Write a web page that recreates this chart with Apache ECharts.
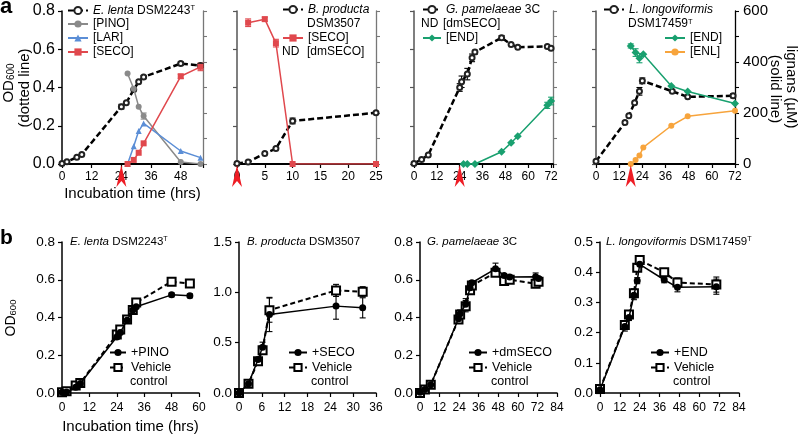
<!DOCTYPE html>
<html><head><meta charset="utf-8">
<script src="https://cdn.jsdelivr.net/npm/echarts@6/dist/echarts.min.js"></script>
<style>html,body{margin:0;padding:0;background:#fff}#c{width:800px;height:437px}</style>
</head><body><div id="c"></div>
<script>
const FF = 'Liberation Sans, Arial, Helvetica, sans-serif';

// ---------- Panel a, E. lenta DSM2243T ----------
const a1OdTime = [0, 2, 6, 8, 24, 26, 29, 31, 33, 48, 56];
const a1Od     = [0.003, 0.012, 0.035, 0.05, 0.30, 0.32, 0.39, 0.43, 0.455, 0.525, 0.515];
const a1OdErr  = [0, 0, 0, 0, 0.012, 0, 0, 0, 0.008, 0.008, 0.01];
const a1LigTime = [26.5, 29, 31, 33, 48, 56];
const a1Pino    = [355, 295, 225, 188, 8, 0];
const a1PinoErr = [0, 0, 0, 12, 0, 0];
const a1Lar     = [0, 70, 129, 159, 51, 25];
const a1Seco    = [0, 16, 44, 81, 344, 381];
const a1SecoErr = [0, 0, 0, 0, 8, 15];

// ---------- Panel a, B. producta DSM3507 ----------
const a2OdTime = [0, 2, 5, 7, 10, 25];
const a2Od     = [0.003, 0.01, 0.055, 0.081, 0.225, 0.268];
const a2OdErr  = [0, 0, 0, 0, 0.015, 0];
const a2SecoTime = [2, 5, 7, 10, 25];
const a2Seco     = [554, 568, 474, 0, 0];
const a2SecoErr  = [15, 8, 15, 0, 0];

// ---------- Panel a, G. pamelaeae 3C ----------
const a3OdTime = [0, 4, 7.5, 24, 25, 28, 30.5, 32, 46, 51, 54.5, 70, 72];
const a3Od     = [0.003, 0.024, 0.047, 0.40, 0.43, 0.47, 0.555, 0.585, 0.66, 0.625, 0.61, 0.615, 0.605];
const a3OdErr  = [0, 0, 0, 0.02, 0.03, 0.03, 0.02, 0.01, 0.012, 0, 0, 0, 0];
const a3EndTime = [26, 28, 32, 46, 51, 54.5, 70, 72];
const a3End     = [0, 0, 0, 48, 83, 109, 230, 247];
const a3EndErr  = [0, 0, 0, 0, 0, 0, 12, 15];

// ---------- Panel a, L. longoviformis DSM17459T ----------
const a4OdTime = [0, 15, 17, 20, 22.5, 24, 39.5, 47.5, 71];
const a4Od     = [0.014, 0.217, 0.252, 0.32, 0.38, 0.435, 0.38, 0.351, 0.357];
const a4OdErr  = [0, 0, 0, 0, 0.02, 0.015, 0, 0, 0.01];
const a4LigTime = [18, 20.5, 22.5, 24.5, 39, 47.5, 72];
const a4End     = [463, 437, 415, 430, 306, 284, 237];
const a4EndErr  = [8, 15, 18, 0, 0, 0, 0];
const a4Enl     = [0, 16, 33, 65, 150, 187, 209];

// lignan addition times (red arrows)
const aAddTime = [24, 0, 24, 18];

// ---------- Panel b ----------
const b1Time = [0, 2, 6, 8, 24, 25.5, 28.5, 31, 32.5, 48, 56];
const b1Pino = [0.004, 0.005, 0.03, 0.05, 0.297, 0.32, 0.386, 0.44, 0.457, 0.52, 0.515];
const b1Veh  = [0.004, 0.009, 0.04, 0.053, 0.31, 0.336, 0.39, 0.44, 0.48, 0.59, 0.58];
const b1PinoErr = [0, 0, 0, 0.01, 0.01, 0.01, 0.01, 0.015, 0.01, 0.01, 0.01];
const b1VehErr  = [0, 0, 0.01, 0.01, 0.01, 0.01, 0.01, 0.01, 0.01, 0.01, 0.01];

const b2Time = [0, 2.5, 5, 6.2, 8, 25.5, 32.5];
const b2Seco = [0, 0.093, 0.332, 0.455, 0.78, 0.863, 0.846];
const b2Veh  = [0, 0.093, 0.315, 0.425, 0.823, 1.019, 1.006];
const b2SecoErr = [0, 0.01, 0.02, 0.05, 0.17, 0.13, 0.1];
const b2VehErr  = [0, 0.01, 0.02, 0.04, 0.12, 0.06, 0.05];

const b3Time = [0, 3, 6.6, 23.6, 24.6, 28, 30.7, 31.8, 46.3, 51.6, 55, 70.9, 72.7];
const b3Dm   = [0.004, 0.018, 0.044, 0.393, 0.42, 0.47, 0.557, 0.584, 0.658, 0.623, 0.614, 0.616, 0.607];
const b3Veh  = [0.0, 0.018, 0.044, 0.39, 0.416, 0.46, 0.545, 0.57, 0.637, 0.593, 0.60, 0.579, 0.589];
const b3DmErr  = [0, 0, 0.01, 0.01, 0.02, 0.03, 0.02, 0.01, 0.03, 0.01, 0.01, 0.02, 0.01];
const b3VehErr = [0, 0, 0.01, 0.01, 0.02, 0.03, 0.02, 0.01, 0.01, 0.01, 0.01, 0.02, 0.02];

const b4Time = [0, 15, 17.5, 20.5, 22.5, 24, 38.8, 46.8, 70.3];
const b4End  = [0.011, 0.22, 0.25, 0.324, 0.372, 0.426, 0.375, 0.35, 0.352];
const b4Veh  = [0.013, 0.225, 0.26, 0.33, 0.415, 0.44, 0.40, 0.366, 0.359];
const b4EndErr = [0.005, 0.015, 0.01, 0.015, 0.01, 0.01, 0.01, 0.015, 0.025];
const b4VehErr = [0.005, 0.015, 0.01, 0.015, 0.01, 0.01, 0.01, 0.015, 0.025];

// ---------- helpers ----------
const zip = (t, v) => t.map((x, i) => [x, v[i]]);
const errs = (t, v, e) => t.map((x, i) => [x, v[i] - e[i], v[i] + e[i]]).filter((d, i) => e[i] > 0);

const COL = {pino:'#8a8a8a', lar:'#5b8ed6', seco:'#e0484d', end:'#19a06f', enl:'#f7a43c', arrow:'#ee1c24'};
const ARROW = 'path://M5,0 L10,22 L5,16 L0,22 Z';

function errRender(params, api) {
  const x = api.value(0), lo = api.value(1), hi = api.value(2);
  const p1 = api.coord([x, hi]), p2 = api.coord([x, lo]);
  const w = 3;
  const style = {stroke: api.visual('color'), lineWidth: 1.1, fill: null};
  return {type:'group', children:[
    {type:'line', shape:{x1:p1[0], y1:p1[1], x2:p2[0], y2:p2[1]}, style},
    {type:'line', shape:{x1:p1[0]-w, y1:p1[1], x2:p1[0]+w, y2:p1[1]}, style},
    {type:'line', shape:{x1:p2[0]-w, y1:p2[1], x2:p2[0]+w, y2:p2[1]}, style}
  ]};
}
function errSeries(xi, yi, t, v, e, color) {
  return {type:'custom', xAxisIndex:xi, yAxisIndex:yi, data:errs(t, v, e), renderItem:errRender,
    itemStyle:{color}, encode:{x:0, y:[1,2]}, silent:true, z:2};
}
function odA(i, name, t, v) {
  return {type:'line', name, xAxisIndex:i, yAxisIndex:i, data:zip(t, v), symbol:'emptyCircle', symbolSize:5,
    lineStyle:{color:'#000', width:2.5, type:[6,3]}, itemStyle:{color:'#222', borderWidth:0.9}, z:3, silent:true,
    markPoint:{symbol:ARROW, symbolSize:[10,22], symbolOffset:[0,12], silent:true, label:{show:false},
      itemStyle:{color:COL.arrow}, data:[{coord:[aAddTime[i], 0]}]}};
}
function lig(i, name, t, v, color, symbol) {
  return {type:'line', name, xAxisIndex:i, yAxisIndex:8+i, data:zip(t, v), symbol, symbolSize: symbol==='diamond'?8:6,
    lineStyle:{color, width:1.5}, itemStyle:{color}, z:4, silent:true};
}
function bTreat(i, name, t, v) {
  return {type:'line', name, xAxisIndex:4+i, yAxisIndex:4+i, data:zip(t, v), symbol:'circle', symbolSize:7,
    lineStyle:{color:'#000', width:1.5}, itemStyle:{color:'#000'}, z:4, silent:true};
}
function bVeh(i, t, v) {
  return {type:'line', name:'Vehicle control', xAxisIndex:4+i, yAxisIndex:4+i, data:zip(t, v), symbol:'emptyRect', symbolSize:8,
    lineStyle:{color:'#000', width:2, type:[5,3]}, itemStyle:{color:'#000', borderWidth:1}, z:3, silent:true};
}

function xa(gi, max, interval, panel, withName) {
  const a = {type:'value', gridIndex:gi, min:0, max, interval, splitLine:{show:false},
    axisLine:{show:true, onZero:false, lineStyle:{color:'#000', width: panel==='a' ? 2 : 1.5}},
    axisTick:{show:true, inside:false, length:4, lineStyle:{color:'#000', width:1.2}},
    axisLabel:{fontSize:12, fontFamily:FF, color:'#000', margin: panel==='a' ? 7 : 9,
      formatter: v => (Math.abs(v/interval - Math.round(v/interval)) < 1e-9 ? String(v) : '')}};
  if (withName) {
    a.name = 'Incubation time (hrs)'; a.nameLocation = 'middle'; a.nameGap = panel==='a' ? 22 : 26;
    a.nameTextStyle = {fontSize:15, fontFamily:FF, color:'#000'};
  }
  return a;
}
function yaLeft(gi, max, interval, showLabels, color, fs) {
  return {type:'value', gridIndex:gi, min:0, max, interval, splitLine:{show:false},
    axisLine:{show:true, onZero:false, lineStyle:{color, width:1.5}},
    axisTick:{show:true, inside:false, length:4, lineStyle:{color, width:1.2}},
    axisLabel:{show:showLabels, fontSize:fs, fontFamily:FF, color:'#000', margin:7, formatter: v => v.toFixed(1)}};
}
function yaRight(gi, showLabels, color) {
  return {type:'value', gridIndex:gi, position:'right', min:0, max:600, interval:100, splitLine:{show:false},
    axisLine:{show:true, onZero:false, lineStyle:{color, width:1.3}},
    axisTick:{show:true, inside:false, length:4, lineStyle:{color, width:1.1}},
    axisLabel:{show:showLabels, fontSize:15, fontFamily:FF, color:'#000', margin:8,
      formatter: v => (v % 200 === 0 ? String(v) : '')}};
}

function leg(name, left, top, iw, fmt, fs) {
  const f = fs || 12;
  return {data:[name], left, top, orient:'vertical', padding:0, itemWidth:iw || 20, itemHeight:9, itemGap:0,
    selectedMode:false, formatter: fmt || (n => n),
    textStyle:{fontSize:f, fontFamily:FF, color:'#000', rich:{
      i:{fontStyle:'italic', fontSize:f, fontFamily:FF, color:'#000'},
      sup:{fontSize:f*0.62, fontFamily:FF, color:'#000', verticalAlign:'top'}}}};
}
function txt(text, left, top, fs, rich) {
  return {text, left, top, padding:0, textStyle:{fontSize:fs || 12, fontWeight:'normal', fontFamily:FF, color:'#000',
    rich: rich || {i:{fontStyle:'italic', fontSize:fs || 12, fontFamily:FF, color:'#000'},
                   sup:{fontSize:(fs || 12)*0.62, fontFamily:FF, color:'#000', verticalAlign:'top'}}}};
}

const grids = [
  {left:62, top:11, width:141, height:153},
  {left:237, top:11, width:139, height:153},
  {left:414, top:11, width:139, height:153},
  {left:596, top:11, width:139, height:153},
  {left:62, top:242, width:137, height:151},
  {left:239, top:242, width:137, height:151},
  {left:420, top:242, width:137, height:151},
  {left:600, top:242, width:139, height:151}
];

const option = {
  animation:false,
  backgroundColor:'#fff',
  grid: grids,
  xAxis: [
    xa(0, 57, 12, 'a', true), xa(1, 25, 5, 'a'), xa(2, 73, 12, 'a'), xa(3, 72, 12, 'a'),
    xa(4, 60, 12, 'b', true), xa(5, 36, 6, 'b'), xa(6, 84, 12, 'b'), xa(7, 84, 12, 'b')
  ],
  yAxis: [
    yaLeft(0, 0.8, 0.2, true, '#000', 16), yaLeft(1, 0.8, 0.2, false, '#555', 16),
    yaLeft(2, 0.8, 0.2, false, '#555', 16), yaLeft(3, 0.8, 0.2, false, '#555', 16),
    yaLeft(4, 0.8, 0.2, true, '#000', 13.5), yaLeft(5, 1.5, 0.5, true, '#000', 13.5),
    yaLeft(6, 0.8, 0.2, true, '#000', 13.5), yaLeft(7, 0.5, 0.1, true, '#000', 13.5),
    yaRight(0, false, '#777'), yaRight(1, false, '#777'), yaRight(2, false, '#777'), yaRight(3, true, '#000')
  ],
  series: [
    // a1
    errSeries(0, 0, a1OdTime, a1Od, a1OdErr, '#000'),
    odA(0, 'E. lenta DSM2243T', a1OdTime, a1Od),
    errSeries(0, 8, a1LigTime, a1Pino, a1PinoErr, COL.pino),
    lig(0, '[PINO]', a1LigTime, a1Pino, COL.pino, 'circle'),
    lig(0, '[LAR]', a1LigTime, a1Lar, COL.lar, 'triangle'),
    errSeries(0, 8, a1LigTime, a1Seco, a1SecoErr, COL.seco),
    lig(0, '[SECO]', a1LigTime, a1Seco, COL.seco, 'rect'),
    // a2
    errSeries(1, 1, a2OdTime, a2Od, a2OdErr, '#000'),
    odA(1, 'B. producta DSM3507', a2OdTime, a2Od),
    errSeries(1, 9, a2SecoTime, a2Seco, a2SecoErr, COL.seco),
    lig(1, '[SECO]', a2SecoTime, a2Seco, COL.seco, 'rect'),
    // a3
    errSeries(2, 2, a3OdTime, a3Od, a3OdErr, '#000'),
    odA(2, 'G. pamelaeae 3C', a3OdTime, a3Od),
    errSeries(2, 10, a3EndTime, a3End, a3EndErr, COL.end),
    lig(2, '[END]', a3EndTime, a3End, COL.end, 'diamond'),
    // a4
    errSeries(3, 3, a4OdTime, a4Od, a4OdErr, '#000'),
    odA(3, 'L. longoviformis DSM17459T', a4OdTime, a4Od),
    errSeries(3, 11, a4LigTime, a4End, a4EndErr, COL.end),
    lig(3, '[END]', a4LigTime, a4End, COL.end, 'diamond'),
    lig(3, '[ENL]', a4LigTime, a4Enl, COL.enl, 'circle'),
    // b
    errSeries(4, 4, b1Time, b1Pino, b1PinoErr, '#000'), errSeries(4, 4, b1Time, b1Veh, b1VehErr, '#000'),
    bVeh(0, b1Time, b1Veh), bTreat(0, '+PINO', b1Time, b1Pino),
    errSeries(5, 5, b2Time, b2Seco, b2SecoErr, '#000'), errSeries(5, 5, b2Time, b2Veh, b2VehErr, '#000'),
    bVeh(1, b2Time, b2Veh), bTreat(1, '+SECO', b2Time, b2Seco),
    errSeries(6, 6, b3Time, b3Dm, b3DmErr, '#000'), errSeries(6, 6, b3Time, b3Veh, b3VehErr, '#000'),
    bVeh(2, b3Time, b3Veh), bTreat(2, '+dmSECO', b3Time, b3Dm),
    errSeries(7, 7, b4Time, b4End, b4EndErr, '#000'), errSeries(7, 7, b4Time, b4Veh, b4VehErr, '#000'),
    bVeh(3, b4Time, b4Veh), bTreat(3, '+END', b4Time, b4End)
  ],
  legend: [
    leg('E. lenta DSM2243T', 67, 4.5, 20, () => '{i|E. lenta} DSM2243{sup|T}'),
    leg('[PINO]', 67, 18, 20), leg('[LAR]', 67, 32, 20), leg('[SECO]', 67, 46, 20),
    leg('B. producta DSM3507', 282, 3.5, 20, () => '{i|B. producta}'),
    leg('[SECO]', 282, 32, 20),
    leg('G. pamelaeae 3C', 422, 3.5, 18, () => '{i|G. pamelaeae} 3C'),
    leg('[END]', 422, 32, 18),
    leg('L. longoviformis DSM17459T', 603, 3.5, 20, () => '{i|L. longoviformis}'),
    leg('[END]', 664, 32, 20), leg('[ENL]', 664, 46, 20),
    leg('+PINO', 109, 346, 16, null, 12.5), leg('Vehicle control', 109, 361, 16, () => 'Vehicle', 12.5),
    leg('+SECO', 288, 346, 18, null, 12.5), leg('Vehicle control', 288, 361, 18, () => 'Vehicle', 12.5),
    leg('+dmSECO', 468, 346, 18, null, 12.5), leg('Vehicle control', 468, 361, 18, () => 'Vehicle', 12.5),
    leg('+END', 650, 346, 18, null, 12.5), leg('Vehicle control', 650, 361, 18, () => 'Vehicle', 12.5)
  ],
  title: [
    txt('DSM3507', 307, 18), txt('ND', 282, 46), txt('[dmSECO]', 307, 46),
    txt('ND', 421, 18), txt('[dmSECO]', 443, 18),
    txt('DSM17459{sup|T}', 628, 18),
    txt('{i|E. lenta} DSM2243{sup|T}', 70, 236, 11.5),
    txt('{i|B. producta} DSM3507', 247, 236, 11.5),
    txt('{i|G. pamelaeae} 3C', 427, 236, 11.5),
    txt('{i|L. longoviformis} DSM17459{sup|T}', 606, 236, 11.5),
    txt('control', 130, 375, 12.5), txt('control', 311, 375, 12.5),
    txt('control', 491, 375, 12.5), txt('control', 673, 375, 12.5)
  ],
  graphic: [
    {type:'text', x:0, y:-4, style:{text:'a', fontSize:22, fontWeight:'bold', fontFamily:FF, fill:'#000', align:'left', verticalAlign:'top'}},
    {type:'text', x:0, y:228, style:{text:'b', fontSize:21, fontWeight:'bold', fontFamily:FF, fill:'#000', align:'left', verticalAlign:'top'}},
    {type:'text', x:9, y:83, rotation:Math.PI/2, style:{text:'{a|OD}{s|600}', fontFamily:FF, fill:'#000', align:'center', verticalAlign:'middle',
      rich:{a:{fontSize:15, fontFamily:FF, fill:'#000'}, s:{fontSize:10, fontFamily:FF, fill:'#000', verticalAlign:'bottom'}}}},
    {type:'text', x:25, y:88, rotation:Math.PI/2, style:{text:'(dotted line)', fontSize:15, fontFamily:FF, fill:'#000', align:'center', verticalAlign:'middle'}},
    {type:'text', x:791, y:87, rotation:-Math.PI/2, style:{text:'lignans (µM)', fontSize:15, fontFamily:FF, fill:'#000', align:'center', verticalAlign:'middle'}},
    {type:'text', x:775, y:89, rotation:-Math.PI/2, style:{text:'(solid line)', fontSize:15, fontFamily:FF, fill:'#000', align:'center', verticalAlign:'middle'}},
    {type:'text', x:11, y:318, rotation:Math.PI/2, style:{text:'{a|OD}{s|600}', fontFamily:FF, fill:'#000', align:'center', verticalAlign:'middle',
      rich:{a:{fontSize:14, fontFamily:FF, fill:'#000'}, s:{fontSize:9.5, fontFamily:FF, fill:'#000', verticalAlign:'bottom'}}}}
  ]
};

const chart = echarts.init(document.getElementById('c'), null, {renderer:'canvas'});
chart.setOption(option);
</script></body></html>
